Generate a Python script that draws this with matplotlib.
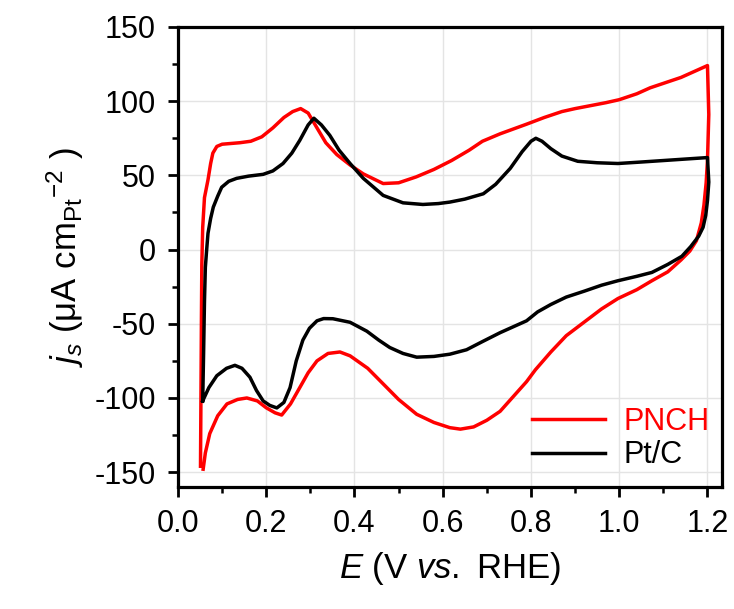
import matplotlib
matplotlib.use('Agg')
import matplotlib.pyplot as plt
from matplotlib.ticker import MultipleLocator

plt.rcParams['font.family'] = ['Liberation Sans', 'DejaVu Sans']
plt.rcParams['mathtext.fontset'] = 'custom'
plt.rcParams['mathtext.rm'] = 'Liberation Sans'
plt.rcParams['mathtext.it'] = 'Liberation Sans:italic'
plt.rcParams['axes.unicode_minus'] = False

# PNCH cyclic voltammogram, anodic sweep then cathodic sweep
pnch_e = [0.051, 0.052, 0.053, 0.054, 0.056, 0.060, 0.068, 0.074, 0.079, 0.088, 0.10,
          0.14, 0.165, 0.19, 0.215, 0.24, 0.26, 0.278, 0.295, 0.315, 0.335, 0.36, 0.39,
          0.42, 0.465, 0.50, 0.54, 0.58, 0.62, 0.66, 0.69, 0.73, 0.79, 0.83, 0.87, 0.90,
          0.935, 0.97, 1.0, 1.04, 1.07, 1.1, 1.14, 1.17, 1.2,
          1.203, 1.2, 1.197, 1.192, 1.186, 1.175, 1.16, 1.14, 1.11, 1.074, 1.04, 0.997,
          0.96, 0.92, 0.88, 0.845, 0.81, 0.79, 0.76, 0.73, 0.70, 0.67, 0.64, 0.616, 0.58,
          0.541, 0.50, 0.465, 0.43, 0.39, 0.367, 0.34, 0.315, 0.295, 0.276, 0.255, 0.235,
          0.22, 0.20, 0.18, 0.156, 0.135, 0.111, 0.09, 0.072, 0.062, 0.057]
pnch_j = [-146, -100, -50, -10, 15, 35, 47, 58, 65, 69.5, 71,
          72, 73, 76, 82, 89, 93, 95, 92, 82, 72, 64, 57,
          51, 44.5, 45, 49, 54, 60, 67, 73, 78, 84.5, 89, 93, 95,
          97, 99, 101, 105, 109, 112, 116, 120, 124,
          91, 60, 45, 30, 18, 6, -1, -7, -15, -21, -27, -33,
          -40, -49, -58, -69, -81, -89, -99, -109, -115, -119.5, -121, -120, -116.5,
          -111, -101, -90.5, -80, -71.6, -69, -70, -75, -83, -93, -104, -111.5,
          -110, -106.6, -102, -100, -101, -104, -112, -124, -137, -148]

# Pt/C cyclic voltammogram
ptc_e = [0.056, 0.058, 0.060, 0.062, 0.065, 0.068, 0.074, 0.08, 0.09, 0.099, 0.115,
         0.133, 0.16, 0.193, 0.215, 0.238, 0.258, 0.276, 0.295, 0.308, 0.325, 0.344,
         0.365, 0.39, 0.42, 0.465, 0.51, 0.555, 0.59, 0.616, 0.65, 0.692, 0.72, 0.753,
         0.78, 0.80, 0.811, 0.825, 0.845, 0.87, 0.906, 0.95, 0.997, 1.05, 1.1, 1.15, 1.2,
         1.203, 1.2, 1.196, 1.19, 1.18, 1.162, 1.142, 1.11, 1.074, 1.04, 0.997, 0.96,
         0.921, 0.88, 0.845, 0.815, 0.79, 0.76, 0.73, 0.69, 0.654, 0.616, 0.58, 0.541,
         0.51, 0.48, 0.455, 0.428, 0.39, 0.351, 0.33, 0.315, 0.298, 0.283, 0.268, 0.254,
         0.24, 0.224, 0.208, 0.193, 0.178, 0.163, 0.145, 0.129, 0.11, 0.088, 0.07, 0.056]
ptc_j = [-102, -70, -35, -12, 0, 11, 21, 28.6, 36, 42, 46,
         48, 49.5, 50.7, 53, 58, 65, 73.6, 84, 88.5, 84, 77,
         67, 58, 48, 36.5, 31.5, 30.4, 31, 32, 34, 37.6, 44, 54.7,
         66, 73, 75, 73, 68, 63, 59.5, 58.5, 58, 59, 60, 61, 62,
         45.5, 33, 23, 15, 9, 2, -4.5, -10, -15.4, -18, -21, -24,
         -28, -32, -37, -42, -48, -52, -56, -62, -67.5, -70.5, -72, -72.5,
         -70, -66, -61, -55, -49, -46.6, -46.5, -48, -53, -61, -75, -93,
         -103, -106.7, -105, -102, -95, -86, -80, -78, -80, -85, -93, -102]

x_ticks = [0.0, 0.2, 0.4, 0.6, 0.8, 1.0, 1.2]
y_ticks = [-150, -100, -50, 0, 50, 100, 150]

fig = plt.figure(figsize=(7.34, 6.09), dpi=100)
ax = fig.add_axes([0.2425, 0.2003, 0.7412, 0.7554])

ax.plot(pnch_e, pnch_j, color='#ff0000', lw=2.5, label='PNCH')
ax.plot(ptc_e, ptc_j, color='black', lw=2.5, label='Pt/C')

ax.set_xlim(0.0, 1.233)
ax.set_ylim(-160, 150)
ax.set_xticks(x_ticks)
ax.set_yticks(y_ticks)
ax.set_xticklabels(['%.1f' % v for v in x_ticks])
ax.xaxis.set_minor_locator(MultipleLocator(0.1))
ax.yaxis.set_minor_locator(MultipleLocator(25))
ax.grid(True, which='major', color='#e4e4e4', lw=1.0)
ax.set_axisbelow(True)

for s in ax.spines.values():
    s.set_linewidth(2.3)
ax.tick_params(which='major', direction='out', length=7, width=2.0, labelsize=22, pad=9)
ax.tick_params(which='minor', direction='out', length=4, width=1.8)

ax.set_xlabel(r'$E$ (V $vs.$ RHE)', fontsize=25, labelpad=8)
ax.set_ylabel(r'$j_s$ ($\mathrm{\mu}$A cm$_{\mathrm{Pt}}{}^{\mathrm{-2}}$ )', fontsize=25, labelpad=6)

ax.legend(loc='lower right', bbox_to_anchor=(1.0, 0.01), frameon=False, fontsize=22,
          handlelength=2.4, handletextpad=0.6, labelcolor='linecolor',
          borderaxespad=0.0, labelspacing=0.1)

fig.savefig('out.png', dpi=100)
